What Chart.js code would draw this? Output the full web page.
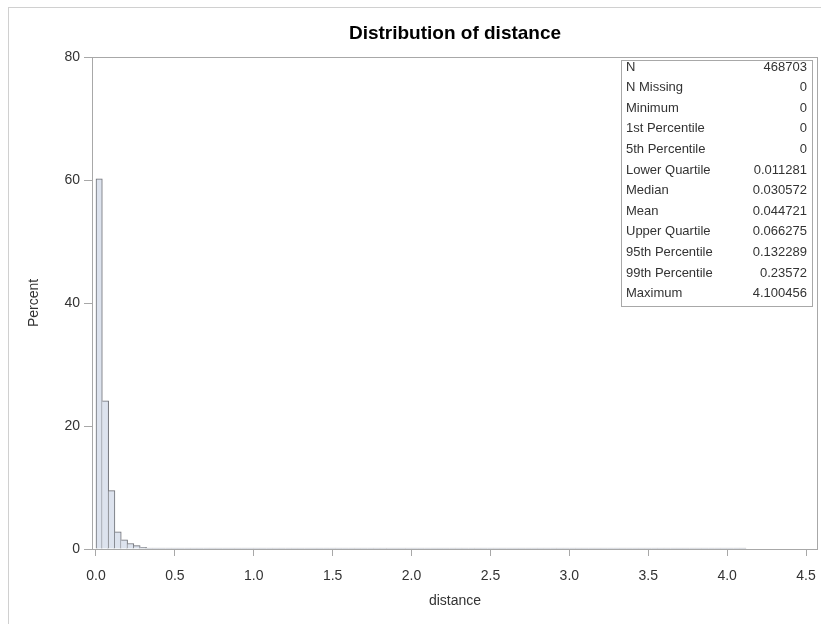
<!DOCTYPE html>
<html>
<head>
<meta charset="utf-8">
<title>Distribution of distance</title>
<script src="https://cdn.jsdelivr.net/npm/chart.js@4"></script>
<style>
  html, body { margin: 0; padding: 0; background: #fff; }
  canvas { display: block; }
</style>
</head>
<body>
<canvas id="hist" width="821" height="624"></canvas>
<script>
// histogram bins are 0.04 wide, starting at 0
const binWidth = 0.04;

// percent of observations in each bin
const percent = [
    60.2, 24.1, 9.5, 2.8, 1.5, 0.9, 0.55, 0.28, 0.12, 0.06,
    0.04, 0.03, 0.02, 0.015, 0.01, 0.008, 0.007, 0.006, 0.005, 0.005,
    0.004, 0.004, 0.003, 0.003, 0.003, 0.002, 0.002, 0.002, 0.002, 0.002,
    0.002, 0.002, 0.002, 0.002, 0.002, 0.002, 0.002, 0.002, 0.002, 0.002,
    0.002, 0.002, 0.002, 0.002, 0.002, 0.001, 0.002, 0.002, 0.001, 0.002,
    0.001, 0.002, 0.001, 0.001, 0.002, 0.001, 0.001, 0.001, 0.002, 0.001,
    0.001, 0.001, 0.001, 0.001, 0.001, 0.001, 0.001, 0.001, 0.001, 0.001,
    0.001, 0.001, 0.001, 0.001, 0.001, 0.001, 0.001, 0.001, 0.001, 0.001,
    0.001, 0.001, 0.001, 0.001, 0.001, 0.001, 0.001, 0.001, 0.001, 0.001,
    0.001, 0.001, 0.001, 0.001, 0.001, 0.001, 0.001, 0.001, 0.001, 0.001,
    0.001, 0.001, 0.001
];

const binMid = percent.map((p, i) => (i + 0.5) * binWidth);

const xTicks = [0, 0.5, 1.0, 1.5, 2.0, 2.5, 3.0, 3.5, 4.0, 4.5];
const yTicks = [0, 20, 40, 60, 80];

// summary statistics shown in the inset
const statLabels = [
    "N", "N Missing", "Minimum", "1st Percentile", "5th Percentile",
    "Lower Quartile", "Median", "Mean", "Upper Quartile",
    "95th Percentile", "99th Percentile", "Maximum"
];
const statValues = [
    "468703", "0", "0", "0", "0",
    "0.011281", "0.030572", "0.044721", "0.066275",
    "0.132289", "0.23572", "4.100456"
];

const FONT = '"Liberation Sans", Arial, sans-serif';
const TEXT = "#333333";
const LINE = "#a8a8a8";

Chart.defaults.font.family = FONT;
Chart.defaults.color = TEXT;

// light border around the whole graph
const pageFrame = {
    id: "pageFrame",
    beforeDraw(chart) {
        const ctx = chart.ctx;
        ctx.save();
        ctx.strokeStyle = "#d0d0d0";
        ctx.lineWidth = 1;
        ctx.strokeRect(8.5, 7.5, 1000, 1000);
        ctx.restore();
    }
};

// box around the plot area
const plotFrame = {
    id: "plotFrame",
    beforeDatasetsDraw(chart) {
        const a = chart.chartArea;
        const ctx = chart.ctx;
        ctx.save();
        ctx.strokeStyle = LINE;
        ctx.lineWidth = 1;
        ctx.strokeRect(Math.round(a.left) + 0.5, Math.round(a.top) + 0.5,
            Math.round(a.right - a.left) - 1, Math.round(a.bottom - a.top));
        ctx.restore();
    }
};

// statistics table in the upper right corner
const statsInset = {
    id: "statsInset",
    afterDraw(chart) {
        const ctx = chart.ctx;
        const boxL = 621, boxT = 60, boxR = 812, boxB = 306;
        ctx.save();
        ctx.fillStyle = "#ffffff";
        ctx.fillRect(boxL, boxT, boxR - boxL, boxB - boxT);
        ctx.strokeStyle = LINE;
        ctx.lineWidth = 1;
        ctx.strokeRect(boxL + 0.5, boxT + 0.5, boxR - boxL, boxB - boxT);
        ctx.font = "13px " + FONT;
        ctx.fillStyle = TEXT;
        ctx.textBaseline = "middle";
        statLabels.forEach((label, i) => {
            const y = 67 + i * 20.6;
            ctx.textAlign = "left";
            ctx.fillText(label, boxL + 5, y);
            ctx.textAlign = "right";
            ctx.fillText(statValues[i], boxR - 5, y);
        });
        ctx.restore();
    }
};

function edgeWidths(ctx) {
    // shared bar edges are drawn once, on the taller bar
    const i = ctx.dataIndex;
    const v = percent[i];
    const prev = i > 0 ? percent[i - 1] : -1;
    const next = i < percent.length - 1 ? percent[i + 1] : -1;
    return { top: 1, bottom: 0, left: prev < v ? 1 : 0, right: next <= v ? 1 : 0 };
}

const histChart = new Chart(document.getElementById("hist").getContext("2d"), {
    type: "bar",
    data: {
        datasets: [
            {
                label: "Percent",
                data: binMid.map((x, i) => ({ x: x, y: percent[i] })),
                backgroundColor: "#dde3ee",
                borderColor: "#6b6d73",
                borderWidth: edgeWidths,
                borderSkipped: "start",
                barPercentage: 1,
                categoryPercentage: 1,
                minBarLength: 1
            }
        ]
    },
    options: {
        responsive: false,
        animation: false,
        layout: {
            autoPadding: false,
            padding: { top: 0, right: 3, bottom: 0, left: 0 }
        },
        plugins: {
            legend: { display: false },
            tooltip: { enabled: false },
            title: {
                display: true,
                text: "Distribution of distance",
                color: "#000000",
                fullSize: false,
                font: { size: 19, weight: "bold" },
                padding: { top: 22, bottom: 12.2 }
            }
        },
        scales: {
            x: {
                type: "linear",
                min: -0.0253,
                max: 4.576,
                offset: false,
                afterBuildTicks: (scale) => {
                    scale.ticks = xTicks.map(v => ({ value: v }));
                },
                afterFit: (scale) => {
                    // the 4.5 label may hang past the plot edge
                    scale.height = 75;
                    scale.paddingLeft = 0;
                    scale.paddingRight = 0;
                },
                ticks: {
                    font: { size: 14 },
                    padding: 12,
                    callback: v => Number(v).toFixed(1)
                },
                grid: {
                    display: true,
                    drawOnChartArea: false,
                    drawTicks: true,
                    tickLength: 7,
                    color: LINE,
                    offset: false
                },
                border: { display: false },
                title: {
                    display: true,
                    text: "distance",
                    font: { size: 14 },
                    padding: { top: 0, bottom: 14 }
                }
            },
            y: {
                min: 0,
                max: 80,
                afterBuildTicks: (scale) => {
                    scale.ticks = yTicks.map(v => ({ value: v }));
                },
                afterFit: (scale) => {
                    scale.width = 92;
                    scale.paddingTop = 0;
                    scale.paddingBottom = 0;
                },
                ticks: {
                    font: { size: 14 },
                    padding: 4
                },
                grid: {
                    display: true,
                    drawOnChartArea: false,
                    drawTicks: true,
                    tickLength: 8,
                    color: LINE
                },
                border: { display: false },
                title: {
                    display: true,
                    text: "Percent",
                    font: { size: 14 },
                    padding: { top: 26, bottom: 0 }
                }
            }
        }
    },
    plugins: [pageFrame, plotFrame, statsInset]
});
</script>
</body>
</html>
